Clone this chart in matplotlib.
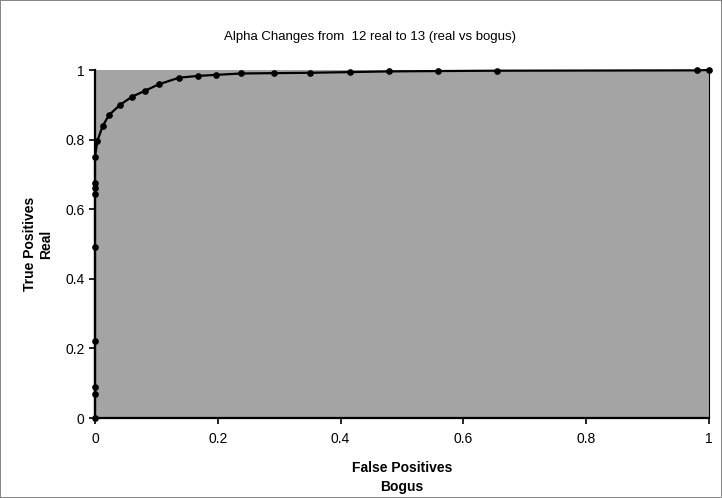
import numpy as np
import matplotlib
matplotlib.use('Agg')
import matplotlib.pyplot as plt

plt.rcParams['font.family'] = ['Liberation Sans', 'DejaVu Sans']

# ROC points
false_pos = [0, 0, 0, 0, 0, 0, 0, 0, 0, 0.004, 0.0125, 0.023, 0.041, 0.06, 0.081,
             0.104, 0.137, 0.168, 0.197, 0.238, 0.292, 0.35, 0.416, 0.479, 0.559,
             0.654, 0.98, 1.0]
true_pos = [0, 0.07, 0.09, 0.22, 0.49, 0.645, 0.66, 0.675, 0.75, 0.797, 0.839, 0.871,
            0.9, 0.923, 0.94, 0.959, 0.978, 0.983, 0.986, 0.99, 0.991, 0.992, 0.994,
            0.996, 0.997, 0.998, 0.999, 1.0]

xticks = [0, 0.2, 0.4, 0.6, 0.8, 1]
yticks = [0, 0.2, 0.4, 0.6, 0.8, 1]
xtick_labels = ['0', '0.2', '0.4', '0.6', '0.8', '1']
ytick_labels = ['0', '0.2', '0.4', '0.6', '0.8', '1']

W, H = 722, 498
fig = plt.figure(figsize=(W / 100, H / 100), dpi=100)
fig.patch.set_facecolor('white')
fig.patch.set_edgecolor('#888888')
fig.patch.set_linewidth(1.2)

ax = fig.add_axes([95 / W, 1 - 418 / H, 614 / W, 348 / H])
ax.set_facecolor('#a4a4a4')
ax.plot(false_pos, true_pos, color='black', lw=1.6, marker='o', ms=3.8,
        clip_on=False, zorder=3)

ax.set_xlim(0, 1)
ax.set_ylim(0, 1)
ax.set_xticks(xticks)
ax.set_xticklabels(xtick_labels)
ax.set_yticks(yticks)
ax.set_yticklabels(ytick_labels)
ax.tick_params(axis='both', direction='out', length=4, width=1.2,
               labelsize=10, colors='black')
ax.tick_params(axis='x', pad=6)

ax.spines['top'].set_visible(False)
ax.spines['right'].set_linewidth(0.8)
ax.spines['left'].set_linewidth(1.6)
ax.spines['bottom'].set_linewidth(1.6)

fig.text(0.513, 1 - 37 / H, 'Alpha Changes from  12 real to 13 (real vs bogus)',
         ha='center', va='center', fontsize=9.5)

# axis titles, two lines each, placed on the figure
fig.text(402 / W, 1 - 468 / H, 'False Positives', ha='center', va='center',
         fontsize=10, fontweight='bold')
fig.text(402 / W, 1 - 487 / H, 'Bogus', ha='center', va='center',
         fontsize=10, fontweight='bold')
fig.text(30 / W, 1 - 244 / H, 'True Positives', ha='center', va='center',
         rotation=90, fontsize=10, fontweight='bold')
fig.text(46 / W, 1 - 244 / H, 'Real', ha='center', va='center',
         rotation=90, fontsize=10, fontweight='bold')

fig.savefig('out.png', dpi=100)
